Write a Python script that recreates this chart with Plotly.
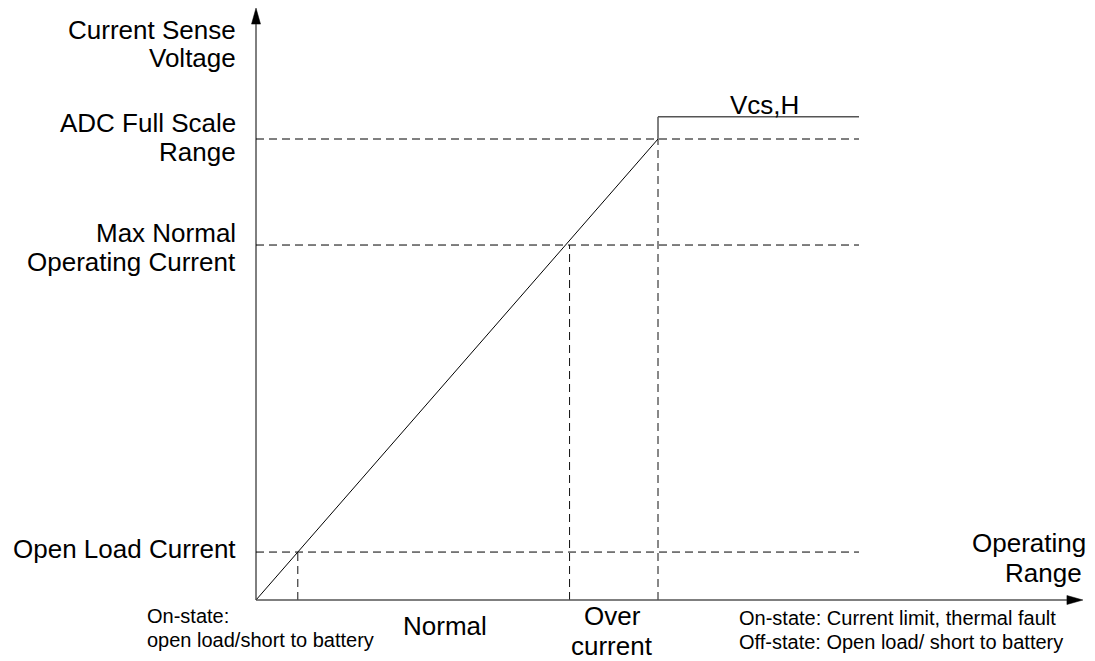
import plotly.graph_objects as go

# ---------------- data (schematic units: ADC full scale = 100) ----------------
level_names = ["Open Load Current", "Max Normal Operating Current", "ADC Full Scale Range"]
level_voltage = [10.4, 77.0, 100.0]        # horizontal dashed reference levels
level_current = [10.4, 78.0, 100.0]        # vertical dashed drop lines
transfer_current = [0.0, 100.0, 100.0, 150.0]
transfer_voltage = [0.0, 100.0, 104.8, 104.8]
dashed_extent = 150.0
axis_max_current = 205.7
axis_max_voltage = 128.4

# ---------------- layout geometry ----------------
PAGE_W, PAGE_H = 1095, 661
OFF = 8                            # default page margin of the html body
W, H = PAGE_W - OFF, PAGE_H - OFF
PX_X, PX_Y = 4.02, 4.61            # pixels per unit
OX, OY = 256 - OFF, 600 - OFF      # pixel position of origin within the figure
x_range = [-OX / PX_X, (W - OX) / PX_X]
y_range = [-(H - OY) / PX_Y, OY / PX_Y]

FONT = "Liberation Sans, Arial, sans-serif"
BIG, SMALL = 26, 20

fig = go.Figure()

# dashed horizontal reference levels
for v in level_voltage:
    fig.add_trace(go.Scatter(x=[0, dashed_extent], y=[v, v], mode="lines",
                             line=dict(color="#000", width=1, dash="8px,5px"),
                             hoverinfo="skip", showlegend=False))
# dashed vertical drop lines
for c, v in zip(level_current, level_voltage):
    fig.add_trace(go.Scatter(x=[c, c], y=[0, v], mode="lines",
                             line=dict(color="#111", width=1, dash="8px,5px"),
                             hoverinfo="skip", showlegend=False))

# transfer characteristic: ramp, then step to Vcs,H
fig.add_trace(go.Scatter(x=transfer_current[:3], y=transfer_voltage[:3], mode="lines",
                         line=dict(color="#000", width=1), hoverinfo="skip", showlegend=False))
fig.add_trace(go.Scatter(x=transfer_current[2:], y=transfer_voltage[2:], mode="lines",
                         line=dict(color="#555", width=1.5), hoverinfo="skip", showlegend=False))

# axes with arrowheads
ah_len, ah_half = 16, 4.5   # arrowhead size in pixels
fig.add_trace(go.Scatter(x=[0, 0], y=[0, axis_max_voltage - ah_len / PX_Y], mode="lines",
                         line=dict(color="#000", width=1), hoverinfo="skip", showlegend=False))
fig.add_trace(go.Scatter(x=[0, axis_max_current - ah_len / PX_X], y=[0, 0], mode="lines",
                         line=dict(color="#555", width=1.5), hoverinfo="skip", showlegend=False))
fig.add_trace(go.Scatter(
    x=[0, -ah_half / PX_X, ah_half / PX_X, 0],
    y=[axis_max_voltage, axis_max_voltage - ah_len / PX_Y, axis_max_voltage - ah_len / PX_Y, axis_max_voltage],
    mode="lines", fill="toself", fillcolor="#000", line=dict(color="#000", width=0.5),
    hoverinfo="skip", showlegend=False))
fig.add_trace(go.Scatter(
    x=[axis_max_current, axis_max_current - ah_len / PX_X, axis_max_current - ah_len / PX_X, axis_max_current],
    y=[0, ah_half / PX_Y, -ah_half / PX_Y, 0],
    mode="lines", fill="toself", fillcolor="#000", line=dict(color="#000", width=0.5),
    hoverinfo="skip", showlegend=False))


def label(text, px, py, xanchor="center", size=BIG):
    """px, py: target position in page pixels."""
    fig.add_annotation(text=text, x=(px - OFF) / W, y=1 - (py - OFF) / H,
                       xref="paper", yref="paper", borderpad=0,
                       xanchor=xanchor, yanchor="middle", showarrow=False,
                       font=dict(family=FONT, size=size, color="#000"))


# y-side labels
label("Current Sense", 237, 30, "right")
label("Voltage", 237, 58, "right")
label("ADC Full Scale", 237, 123, "right")
label("Range", 237, 152, "right")
label("Max Normal", 237, 233, "right")
label("Operating Current", 237, 262, "right")
label("Open Load Current", 237, 549, "right")

# curve label
label("Vcs,H", 764, 105)

# x-side labels
label("Operating", 1087, 543, "right")
label("Range", 1083, 573, "right")
label("Normal", 445, 626)
label("Over", 612, 616)
label("current", 612, 646)
label("On-state:", 146, 616, "left", SMALL)
label("open load/short to battery", 146, 640, "left", SMALL)
label("On-state: Current limit, thermal fault", 738, 618, "left", SMALL)
label("Off-state: Open load/ short to battery", 738, 642, "left", SMALL)

fig.update_layout(
    width=W, height=H, margin=dict(l=0, r=0, t=0, b=0),
    paper_bgcolor="white", plot_bgcolor="white",
    xaxis=dict(range=x_range, visible=False, fixedrange=True),
    yaxis=dict(range=y_range, visible=False, fixedrange=True),
    showlegend=False,
)

fig.write_html("out.html")
